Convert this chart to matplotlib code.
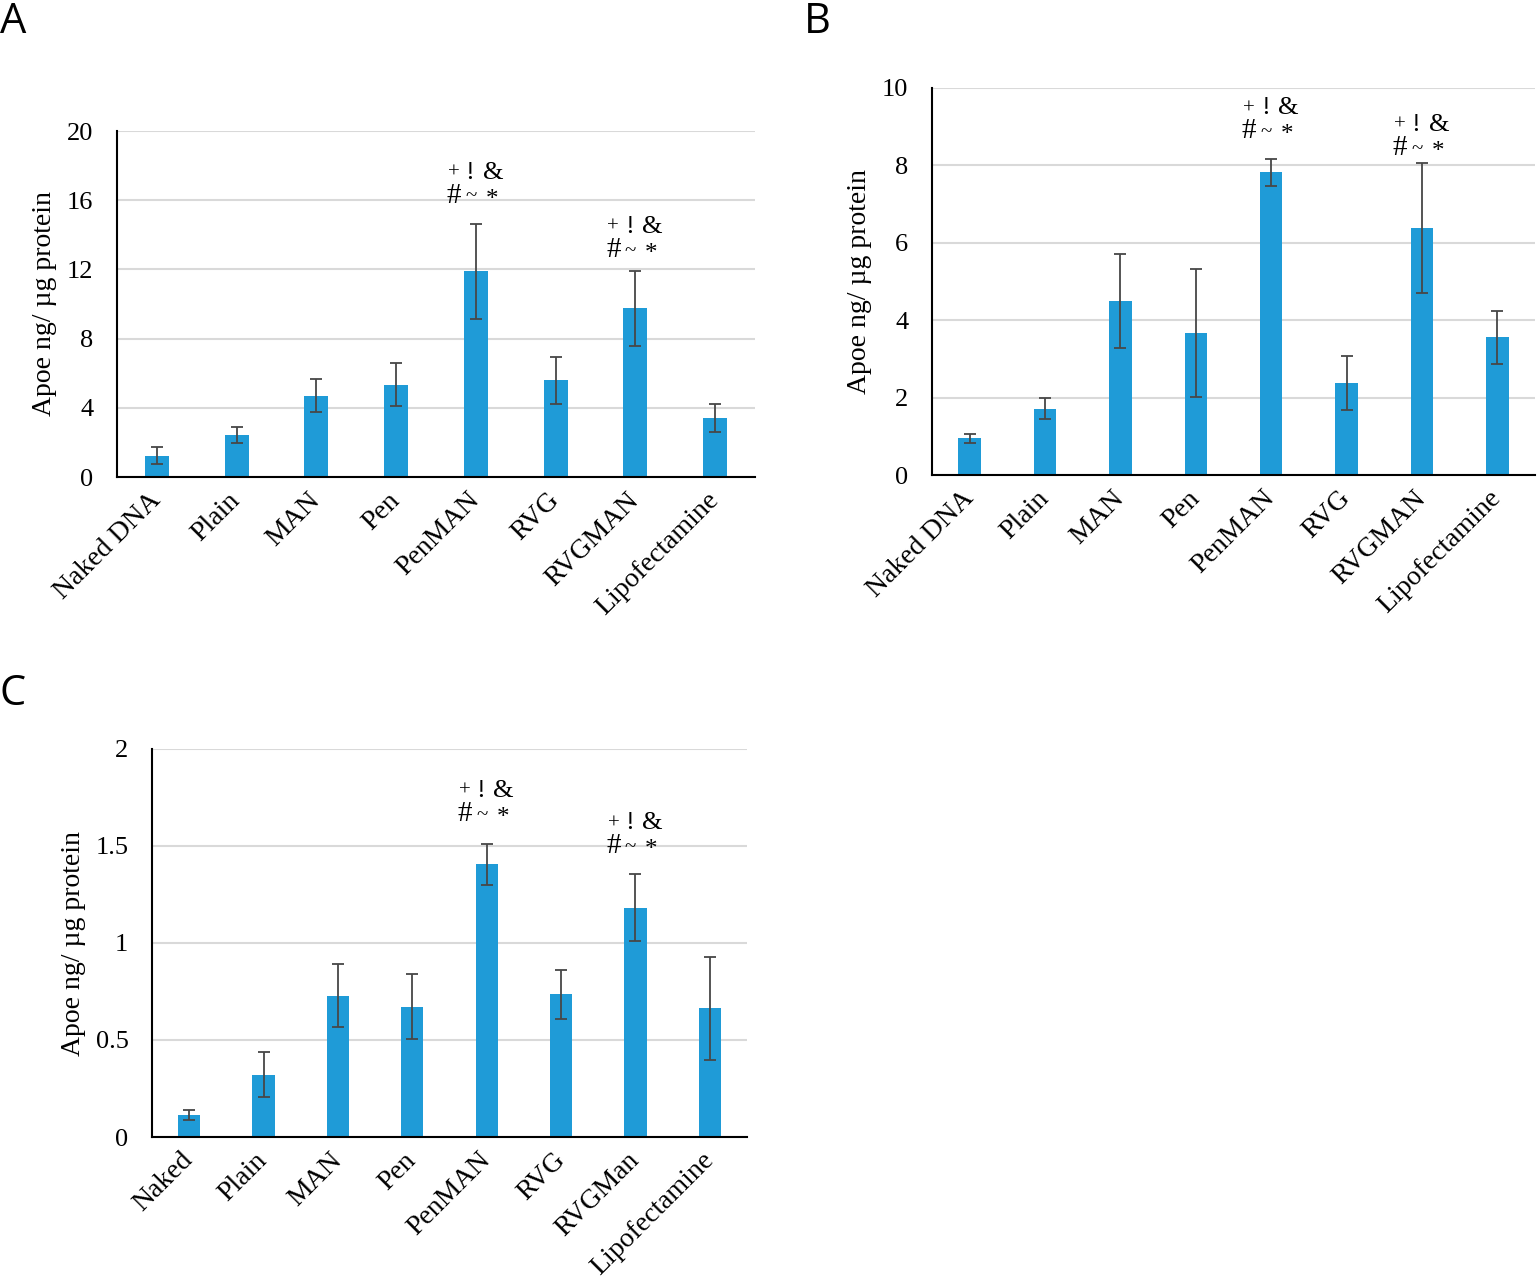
import numpy as np
import matplotlib
matplotlib.use("Agg")
import matplotlib.pyplot as plt

plt.rcParams["font.family"] = ["Liberation Serif", "DejaVu Serif"]

LABELS_AB = ["Naked DNA", "Plain", "MAN", "Pen", "PenMAN", "RVG", "RVGMAN", "Lipofectamine"]
LABELS_C = ["Naked", "Plain", "MAN", "Pen", "PenMAN", "RVG", "RVGMan", "Lipofectamine"]

A_MEAN = [1.23, 2.43, 4.71, 5.34, 11.9, 5.59, 9.76, 3.41]
A_ERR = [0.50, 0.45, 0.97, 1.25, 2.75, 1.37, 2.16, 0.80]
B_MEAN = [0.95, 1.71, 4.49, 3.67, 7.82, 2.38, 6.38, 3.56]
B_ERR = [0.12, 0.27, 1.22, 1.65, 0.34, 0.70, 1.68, 0.69]
C_MEAN = [0.114, 0.322, 0.728, 0.671, 1.406, 0.735, 1.182, 0.663]
C_ERR = [0.025, 0.117, 0.162, 0.167, 0.105, 0.125, 0.172, 0.267]

SIG_IDX = [4, 6]          # PenMAN, RVGMAN carry the marks
YLABEL = "Apoe ng/ µg protein"

BLUE = "#1f9bd7"
W, H = 1537, 1287
fig = plt.figure(figsize=(W / 100, H / 100), dpi=100)

# signs: char, dx px, dy px (baseline above line-2 baseline), size
SIG_CHARS = [("+", -22, 25, 15), ("!", -6, 24, 19), ("&", 17, 24, 19),
             ("#", -22, 0, 21), ("~", -5, 1, 15), ("*", 16, -3, 18)]


def rect(l, r, t, b):
    return [l / W, 1 - b / H, (r - l) / W, (b - t) / H]


def panel(box, labels, mean, err, ymax, yticks, sig_gap, lab_pad):
    ax = fig.add_axes(rect(*box))
    x = np.arange(len(labels))
    ax.bar(x, mean, width=0.3, color=BLUE, zorder=3)
    ax.errorbar(x, mean, yerr=err, fmt="none", ecolor="#474747", elinewidth=1.3,
                capsize=4.5, capthick=1.3, zorder=4)
    ax.set_xlim(-0.5, len(labels) - 0.5)
    ax.set_ylim(0, ymax)
    ax.set_yticks(yticks)
    ax.set_yticklabels([f"{t:g}" for t in yticks])
    ax.set_xticks(x)
    ax.set_xticklabels(labels, rotation=45, ha="right", va="center", rotation_mode="anchor", fontsize=20)
    ax.tick_params(axis="y", length=0, pad=17, labelsize=19)
    ax.tick_params(axis="x", length=0, pad=14)
    ax.grid(axis="y", color="#d9d9d9", lw=1.5, zorder=0)
    for s in ["top", "right"]:
        ax.spines[s].set_visible(False)
    for s in ["left", "bottom"]:
        ax.spines[s].set_linewidth(1.5)
        ax.spines[s].set_zorder(5)
    ax.set_ylabel(YLABEL, fontsize=20, labelpad=lab_pad)
    for k, i in enumerate(SIG_IDX):
        top = mean[i] + err[i]
        for ch, dx, dy, sz in SIG_CHARS:
            ax.annotate(ch, (i, top), xytext=(dx * 0.72, (dy + sig_gap[k]) * 0.72),
                        textcoords="offset points", ha="center", va="baseline", fontsize=sz)
    return ax


panel((117, 755, 131, 477), LABELS_AB, A_MEAN, A_ERR, 20, [0, 4, 8, 12, 16, 20], [21, 14], 7)
panel((932, 1535, 88, 475), LABELS_AB, B_MEAN, B_ERR, 10, [0, 2, 4, 6, 8, 10], [21, 8], 7)
panel((152, 747, 749, 1137), LABELS_C, C_MEAN, C_ERR, 2, [0, 0.5, 1, 1.5, 2], [23, 21], 7)

for letter, lx, by in [("A", 0, 33), ("B", 804, 33), ("C", 0, 705)]:
    fig.text(lx / W, 1 - by / H, letter, fontsize=30, family=["Open Sans", "DejaVu Sans"],
             ha="left", va="baseline")

fig.savefig("out.png", dpi=100)
